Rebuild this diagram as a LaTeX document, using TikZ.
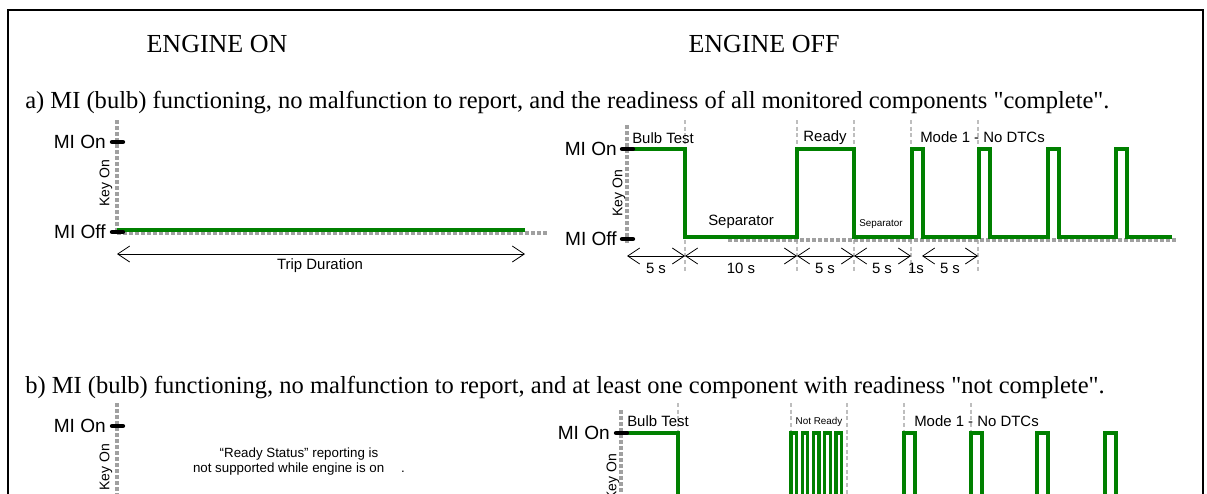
\documentclass[tikz,border=0pt]{standalone}
\usepackage{fontspec}
\setmainfont{Liberation Serif}[Ligatures=TeXOff]
\setsansfont{Liberation Sans}
\usetikzlibrary{arrows.meta}
\definecolor{sigreen}{RGB}{0,128,0}
\definecolor{keygray}{RGB}{160,160,160}
\definecolor{guidegray}{RGB}{190,190,190}
\tikzset{
  sig/.style={draw=sigreen,line width=2.5pt},
  keyline/.style={draw=keygray,line width=3pt,dash pattern=on 3pt off 1.5pt},
  guide/.style={draw=guidegray,line width=0.8pt,dash pattern=on 3pt off 2pt},
  mitick/.style={line width=3.2pt,line cap=round},
  dimline/.style={line width=0.6pt,{Straight Barb[length=9pt,width=12pt]}-{Straight Barb[length=9pt,width=12pt]}},
  mistate/.style={font=\sffamily\fontsize{14.3}{16}\selectfont,anchor=east,inner sep=0pt},
  lbl/.style={font=\sffamily\fontsize{11.2}{13}\selectfont,inner sep=0pt},
  smalllbl/.style={font=\sffamily\fontsize{7.4}{9}\selectfont,inner sep=0pt},
  keyon/.style={font=\sffamily\fontsize{10.5}{12}\selectfont,rotate=90,inner sep=0pt},
  heading/.style={font=\fontsize{19.5}{22}\selectfont,anchor=base,inner sep=0pt},
  caption/.style={font=\fontsize{18.4}{20}\selectfont,anchor=base west,inner sep=0pt}
}
\begin{document}
\begin{tikzpicture}[x=0.75pt,y=-0.75pt]
\useasboundingbox (0,0) rectangle (1207,493);
\clip (0,0) rectangle (1207,493);
\draw[line width=1pt] (8,560) -- (8,10) -- (1203,10) -- (1203,560);

\node[heading] (eon) at (217,52) {ENGINE ON};
\node[heading] (eoff) at (764,52) {ENGINE OFF};
\node[caption] (capa) at (25,108) {a) MI (bulb) functioning, no malfunction to report, and the readiness of all monitored components "complete".};

% a) engine on
\draw[keyline] (117,120) -- (117,232);
\draw[keyline] (117,233) -- (547,233);
\draw[sig] (117,230) -- (525,230);
\draw[mitick] (112,142) -- (123,142);
\draw[mitick] (112,232) -- (123,232);
\node[mistate] (aonl) at (106,142) {MI On};
\node[mistate] (aoffl) at (106,232) {MI Off};
\node[keyon] (akeyl) at (106,183) {Key On};
\coordinate (ts) at (117,254);
\coordinate (te) at (525,254);
\draw[dimline] (ts) -- (te);
\node[lbl] (trip) at (320,266) {Trip Duration};

% a) engine off
\foreach \x in {685,797,854,911,978}
  \draw[guide] (\x,120) -- (\x,272);
\draw[keyline] (627,125) -- (627,245);
\draw[keyline] (728,240) -- (1176,240);
\draw[sig] (627,149) -- (685,149) -- (685,237) -- (797,237) -- (797,149) -- (854,149) -- (854,237)
  \foreach \p in {912,979,1048,1116} { -- (\p,237) -- (\p,149) -- (\p+11,149) -- (\p+11,237) } -- (1172,237);
\draw[mitick] (622,149) -- (633,149);
\draw[mitick] (622,239) -- (633,239);
\node[mistate] (bonl) at (617,149) {MI On};
\node[mistate] (boffl) at (617,239) {MI Off};
\node[keyon] (bkeyl) at (619,193) {Key On};
\node[lbl,anchor=west] (bulb) at (632,138) {Bulb Test};
\node[lbl] (ready) at (825,138) {Ready};
\node[lbl,anchor=west] (mode) at (920,137) {Mode 1 - No DTCs};
\node[lbl,anchor=west] (sep) at (708,222) {Separator};
\node[smalllbl] (sepb) at (881,224) {Separator};
\coordinate (d0) at (627,256);
\coordinate (d1) at (685,256);
\coordinate (d2) at (797,256);
\coordinate (d3) at (854,256);
\coordinate (d4) at (911,256);
\coordinate (d5) at (922,256);
\coordinate (d6) at (978,256);
\draw[dimline] (d0) -- (d1);
\draw[dimline] (d1) -- (d2);
\draw[dimline] (d2) -- (d3);
\draw[dimline] (d3) -- (d4);
\draw[dimline] (d5) -- (d6);
\node[lbl] (s1) at (656,268) {5 s};
\node[lbl] (s2) at (741,268) {10 s};
\node[lbl] (s3) at (825,268) {5 s};
\node[lbl] (s4) at (882,268) {5 s};
\node[lbl] (s5) at (916,268) {1s};
\node[lbl] (s6) at (950,268) {5 s};

\node[caption] (capb) at (25,393) {b) MI (bulb) functioning, no malfunction to report, and at least one component with readiness "not complete".};

% b) engine on
\draw[keyline] (117,403) -- (117,520);
\draw[mitick] (112,426) -- (123,426);
\node[mistate] (conl) at (106,426) {MI On};
\node[keyon] (ckeyl) at (106,467) {Key On};
\node[lbl,font=\sffamily\fontsize{10}{11.3}\selectfont,align=center] (note) at (299,462) {“Ready Status” reporting is\\not supported while engine is on\quad\ .};

% b) engine off
\foreach \x in {678,791,847,904,971}
  \draw[guide] (\x,403) -- (\x,520);
\draw[keyline] (621,410) -- (621,520);
\draw[sig] (621,433) -- (678,433) -- (678,520);
\foreach \p in {791,802.2,813.5,824.8,836}
  \draw[sig] (\p,520) |- (\p+5.5,433) -- (\p+5.5,520);
\foreach \p in {904,971,1037,1105}
  \draw[sig] (\p,520) |- (\p+11,433) -- (\p+11,520);
\draw[mitick] (616,433) -- (627,433);
\node[mistate] (donl) at (610,433) {MI On};
\node[keyon] (dkeyl) at (613,477) {Key On};
\node[lbl,anchor=west] (bulbb) at (627,421) {Bulb Test};
\node[smalllbl] (notr) at (819,422) {Not Ready};
\node[lbl,anchor=west] (modeb) at (914,421) {Mode 1 - No DTCs};
\end{tikzpicture}
\end{document}
